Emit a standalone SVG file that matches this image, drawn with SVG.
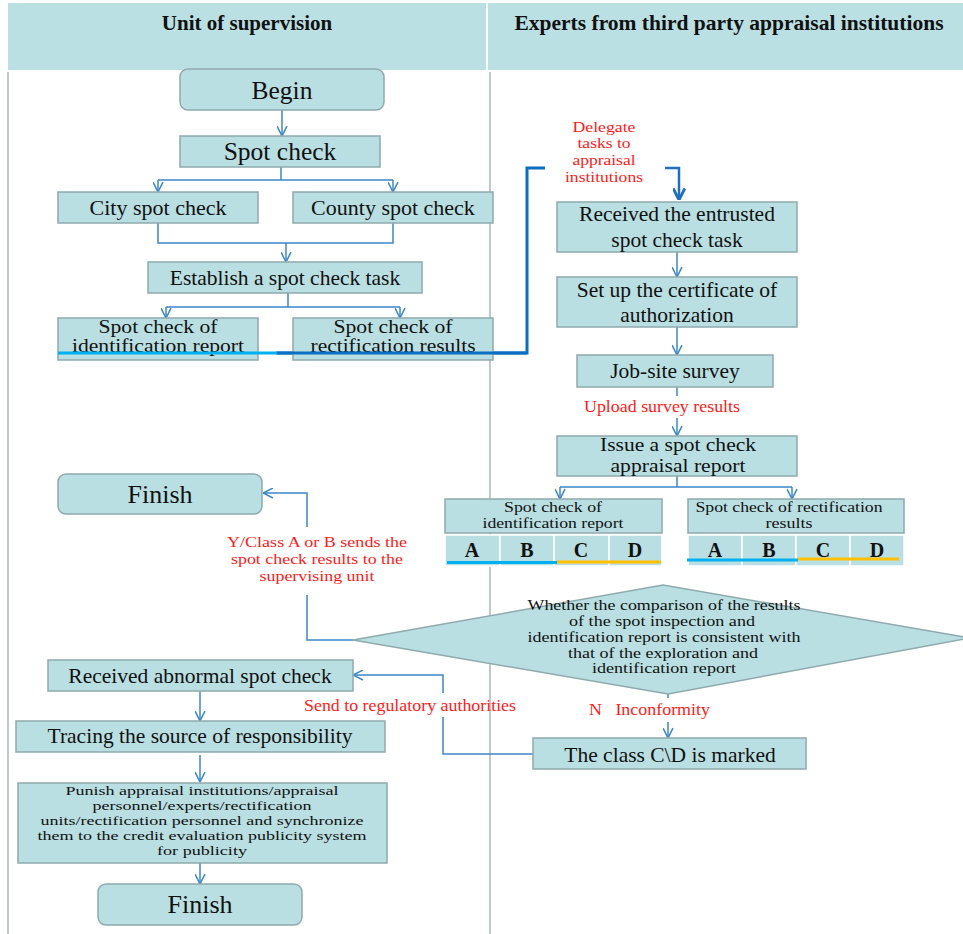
<svg xmlns="http://www.w3.org/2000/svg" width="963" height="934" viewBox="0 0 963 934">
<style>
.node{fill:#B9DFE2;stroke:#8FAAAE;stroke-width:1.5}
.t{font-family:"Liberation Serif","Times New Roman",serif;fill:#111;text-anchor:middle}
.red{font-family:"Liberation Serif","Times New Roman",serif;fill:#FF1A1A;text-anchor:middle}
.c{fill:none;stroke:#3C88C8;stroke-width:1.5}
.cell{fill:#B9DFE2;stroke:#FFFFFF;stroke-width:1.5}
</style>
<defs>
<marker id="ah" viewBox="0 0 10 10" refX="10" refY="5" markerWidth="11" markerHeight="11" markerUnits="userSpaceOnUse" orient="auto">
<path d="M1,0.5 L10,5 L1,9.5" fill="none" stroke="#3C88C8" stroke-width="1.4"/>
</marker>
<marker id="ahb" viewBox="0 0 10 10" refX="10" refY="5" markerWidth="13" markerHeight="13" markerUnits="userSpaceOnUse" orient="auto">
<path d="M1,0.5 L10,5 L1,9.5" fill="none" stroke="#1E6FBF" stroke-width="2.2"/>
</marker>
</defs>
<rect width="963" height="934" fill="#FFFFFF"/>
<g id="header">
<rect x="8" y="3" width="955" height="67" fill="#BBE0E4"/>
<rect x="486" y="3" width="2" height="67" fill="#FFFFFF"/>
<text class="t" x="247" y="30" font-size="21" font-weight="bold">Unit of supervision</text>
<text class="t" x="729" y="30" font-size="21.5" font-weight="bold">Experts from third party appraisal institutions</text>
<line x1="8" y1="72" x2="8" y2="934" stroke="#A9B9BC" stroke-width="1.5"/>
<line x1="490" y1="72" x2="490" y2="934" stroke="#A9B9BC" stroke-width="1.5"/>
</g>
<g id="connectors">
<path class="c" d="M282,110 V136" marker-end="url(#ah)"/>
<path class="c" d="M281,167 V180 M158,180 H393"/>
<path class="c" d="M158,180 V192" marker-end="url(#ah)"/>
<path class="c" d="M393,180 V192" marker-end="url(#ah)"/>
<path class="c" d="M158,223 V243 H393 V223"/>
<path class="c" d="M286,243 V262" marker-end="url(#ah)"/>
<path class="c" d="M288,293 V307 M166,307 H400"/>
<path class="c" d="M166,307 V318" marker-end="url(#ah)"/>
<path class="c" d="M400,307 V318" marker-end="url(#ah)"/>
<path d="M276,353 H527 V168 H545" fill="none" stroke="#0A6FC2" stroke-width="3"/>
<path d="M665,168 H679 V200" fill="none" stroke="#1E6FBF" stroke-width="2.5" marker-end="url(#ahb)"/>
<path class="c" d="M677,252 V277" marker-end="url(#ah)"/>
<path class="c" d="M677,327 V355" marker-end="url(#ah)"/>
<path class="c" d="M677,387 V396"/>
<path class="c" d="M677,418 V436" marker-end="url(#ah)"/>
<path class="c" d="M677,476 V487 M560,487 H792"/>
<path class="c" d="M560,487 V499" marker-end="url(#ah)"/>
<path class="c" d="M792,487 V499" marker-end="url(#ah)"/>
<path class="c" d="M353,640 H307 V595"/>
<path class="c" d="M307,527 V493 H263" marker-end="url(#ah)"/>
<path class="c" d="M668,694 V698"/>
<path class="c" d="M668,722 V738" marker-end="url(#ah)"/>
<path class="c" d="M533,754 H443 V717"/>
<path class="c" d="M443,693 V675 H353" marker-end="url(#ah)"/>
<path class="c" d="M200,691 V721" marker-end="url(#ah)"/>
<path class="c" d="M200,755 V782" marker-end="url(#ah)"/>
<path class="c" d="M200,863 V884" marker-end="url(#ah)"/>
</g>
<g id="labels">
<text class="red" x="604" y="132" font-size="15" textLength="63" lengthAdjust="spacingAndGlyphs">Delegate</text>
<text class="red" x="604" y="148" font-size="15" textLength="53" lengthAdjust="spacingAndGlyphs">tasks to</text>
<text class="red" x="604" y="165" font-size="15" textLength="63" lengthAdjust="spacingAndGlyphs">appraisal</text>
<text class="red" x="604" y="182" font-size="15" textLength="78" lengthAdjust="spacingAndGlyphs">institutions</text>
<text class="red" x="662" y="412" font-size="17" textLength="156" lengthAdjust="spacingAndGlyphs">Upload survey results</text>
<text class="red" x="317" y="547" font-size="15.5" textLength="180" lengthAdjust="spacingAndGlyphs">Y/Class A or B sends the</text>
<text class="red" x="317" y="564" font-size="15.5" textLength="172" lengthAdjust="spacingAndGlyphs">spot check results to the</text>
<text class="red" x="317" y="581" font-size="15.5" textLength="115" lengthAdjust="spacingAndGlyphs">supervising unit</text>
<text class="red" x="410" y="711" font-size="17" textLength="212" lengthAdjust="spacingAndGlyphs">Send to regulatory authorities</text>
<text class="red" x="589" y="715" font-size="17" style="text-anchor:start" textLength="121" lengthAdjust="spacingAndGlyphs" xml:space="preserve">N   Inconformity</text>
</g>
<g id="begin">
<rect class="node" x="180" y="69" width="204" height="41" rx="8"/>
<text class="t" x="282" y="99" font-size="25.5">Begin</text>
</g>
<g id="spot-check">
<rect class="node" x="180" y="136" width="200" height="31"/>
<text class="t" x="280" y="160" font-size="25.5">Spot check</text>
</g>
<g id="city">
<rect class="node" x="58" y="192" width="200" height="31"/>
<text class="t" x="158" y="215" font-size="22">City spot check</text>
</g>
<g id="county">
<rect class="node" x="293" y="192" width="200" height="31"/>
<text class="t" x="393" y="215" font-size="22">County spot check</text>
</g>
<g id="establish">
<rect class="node" x="148" y="262" width="274" height="31"/>
<text class="t" x="285" y="285" font-size="21.5">Establish a spot check task</text>
</g>
<g id="left-ident">
<rect class="node" x="58" y="318" width="200" height="42"/>
<text class="t" x="158" y="333" font-size="18.5" textLength="119" lengthAdjust="spacingAndGlyphs">Spot check of</text>
<text class="t" x="158" y="352" font-size="18.5" textLength="172" lengthAdjust="spacingAndGlyphs">identification report</text>
</g>
<g id="left-rect">
<rect class="node" x="293" y="318" width="200" height="42"/>
<text class="t" x="393" y="333" font-size="18.5" textLength="119" lengthAdjust="spacingAndGlyphs">Spot check of</text>
<text class="t" x="393" y="352" font-size="18.5" textLength="165" lengthAdjust="spacingAndGlyphs">rectification results</text>
</g>
<path d="M58,353 H277" fill="none" stroke="#00B0F0" stroke-width="3"/>
<path d="M277,353 H527" fill="none" stroke="#0A6FC2" stroke-width="3"/>
<g id="received-task">
<rect class="node" x="557" y="202" width="240" height="50"/>
<text class="t" x="677" y="221" font-size="21.5">Received the entrusted</text>
<text class="t" x="677" y="247" font-size="21.5">spot check task</text>
</g>
<g id="certificate">
<rect class="node" x="557" y="277" width="240" height="50"/>
<text class="t" x="677" y="297" font-size="21.5">Set up the certificate of</text>
<text class="t" x="677" y="322" font-size="21.5">authorization</text>
</g>
<g id="survey">
<rect class="node" x="577" y="355" width="196" height="32"/>
<text class="t" x="675" y="378" font-size="21.5">Job-site survey</text>
</g>
<g id="issue">
<rect class="node" x="557" y="436" width="240" height="40"/>
<text class="t" x="678" y="451" font-size="19.5" textLength="156" lengthAdjust="spacingAndGlyphs">Issue a spot check</text>
<text class="t" x="678" y="472" font-size="19.5" textLength="135" lengthAdjust="spacingAndGlyphs">appraisal report</text>
</g>
<g id="r-ident">
<rect class="node" x="445" y="499" width="217" height="34"/>
<text class="t" x="553" y="512" font-size="15.5" textLength="98" lengthAdjust="spacingAndGlyphs">Spot check of</text>
<text class="t" x="553" y="528" font-size="15.5" textLength="141" lengthAdjust="spacingAndGlyphs">identification report</text>
<rect class="cell" x="445" y="535" width="55" height="31"/>
<rect class="cell" x="500" y="535" width="54" height="31"/>
<rect class="cell" x="554" y="535" width="55" height="31"/>
<rect class="cell" x="609" y="535" width="53" height="31"/>
<text class="t" x="472" y="557" font-size="20" font-weight="bold">A</text>
<text class="t" x="527" y="557" font-size="20" font-weight="bold">B</text>
<text class="t" x="581" y="557" font-size="20" font-weight="bold">C</text>
<text class="t" x="635" y="557" font-size="20" font-weight="bold">D</text>
<line x1="447" y1="562.5" x2="557" y2="562.5" stroke="#00B0F0" stroke-width="3"/>
<line x1="557" y1="562" x2="661" y2="562" stroke="#FFC000" stroke-width="3"/>
</g>
<g id="r-rect">
<rect class="node" x="688" y="499" width="216" height="34"/>
<text class="t" x="789" y="512" font-size="15.5" textLength="187" lengthAdjust="spacingAndGlyphs">Spot check of rectification</text>
<text class="t" x="789" y="528" font-size="15.5" textLength="47" lengthAdjust="spacingAndGlyphs">results</text>
<rect class="cell" x="688" y="535" width="54" height="31"/>
<rect class="cell" x="742" y="535" width="54" height="31"/>
<rect class="cell" x="796" y="535" width="54" height="31"/>
<rect class="cell" x="850" y="535" width="54" height="31"/>
<text class="t" x="715" y="557" font-size="20" font-weight="bold">A</text>
<text class="t" x="769" y="557" font-size="20" font-weight="bold">B</text>
<text class="t" x="823" y="557" font-size="20" font-weight="bold">C</text>
<text class="t" x="877" y="557" font-size="20" font-weight="bold">D</text>
<line x1="687" y1="560" x2="798" y2="560" stroke="#00B0F0" stroke-width="3"/>
<line x1="798" y1="559" x2="899" y2="559" stroke="#FFC000" stroke-width="3"/>
</g>
<g id="decision">
<polygon class="node" points="353,640 663,585 970,638 668,694"/>
<text class="t" x="664" y="610" font-size="14.5" textLength="273" lengthAdjust="spacingAndGlyphs">Whether the comparison of the results</text>
<text class="t" x="662" y="626" font-size="14.5" textLength="186" lengthAdjust="spacingAndGlyphs">of the spot inspection and</text>
<text class="t" x="664" y="642" font-size="14.5" textLength="273" lengthAdjust="spacingAndGlyphs">identification report is consistent with</text>
<text class="t" x="663" y="658" font-size="14.5" textLength="190" lengthAdjust="spacingAndGlyphs">that of the exploration and</text>
<text class="t" x="664" y="673" font-size="14.5" textLength="144" lengthAdjust="spacingAndGlyphs">identification report</text>
</g>
<g id="finish-top">
<rect class="node" x="58" y="474" width="204" height="40" rx="8"/>
<text class="t" x="160" y="503" font-size="26">Finish</text>
</g>
<g id="marked">
<rect class="node" x="533" y="738" width="273" height="31"/>
<text class="t" x="670" y="762" font-size="21.5">The class C\D is marked</text>
</g>
<g id="abnormal">
<rect class="node" x="48" y="660" width="305" height="31"/>
<text class="t" x="200" y="683" font-size="21.5">Received abnormal spot check</text>
</g>
<g id="tracing">
<rect class="node" x="16" y="721" width="369" height="31"/>
<text class="t" x="200" y="743" font-size="21.5">Tracing the source of responsibility</text>
</g>
<g id="punish">
<rect class="node" x="18" y="783" width="369" height="80"/>
<text class="t" x="202" y="795" font-size="13.5" textLength="273" lengthAdjust="spacingAndGlyphs">Punish appraisal institutions/appraisal</text>
<text class="t" x="202" y="810" font-size="13.5" textLength="219" lengthAdjust="spacingAndGlyphs">personnel/experts/rectification</text>
<text class="t" x="202" y="825" font-size="13.5" textLength="323" lengthAdjust="spacingAndGlyphs">units/rectification personnel and synchronize</text>
<text class="t" x="202" y="840" font-size="13.5" textLength="329" lengthAdjust="spacingAndGlyphs">them to the credit evaluation publicity system</text>
<text class="t" x="202" y="855" font-size="13.5" textLength="90" lengthAdjust="spacingAndGlyphs">for publicity</text>
</g>
<g id="finish-bottom">
<rect class="node" x="98" y="884" width="204" height="41" rx="8"/>
<text class="t" x="200" y="913" font-size="26">Finish</text>
</g>
</svg>
